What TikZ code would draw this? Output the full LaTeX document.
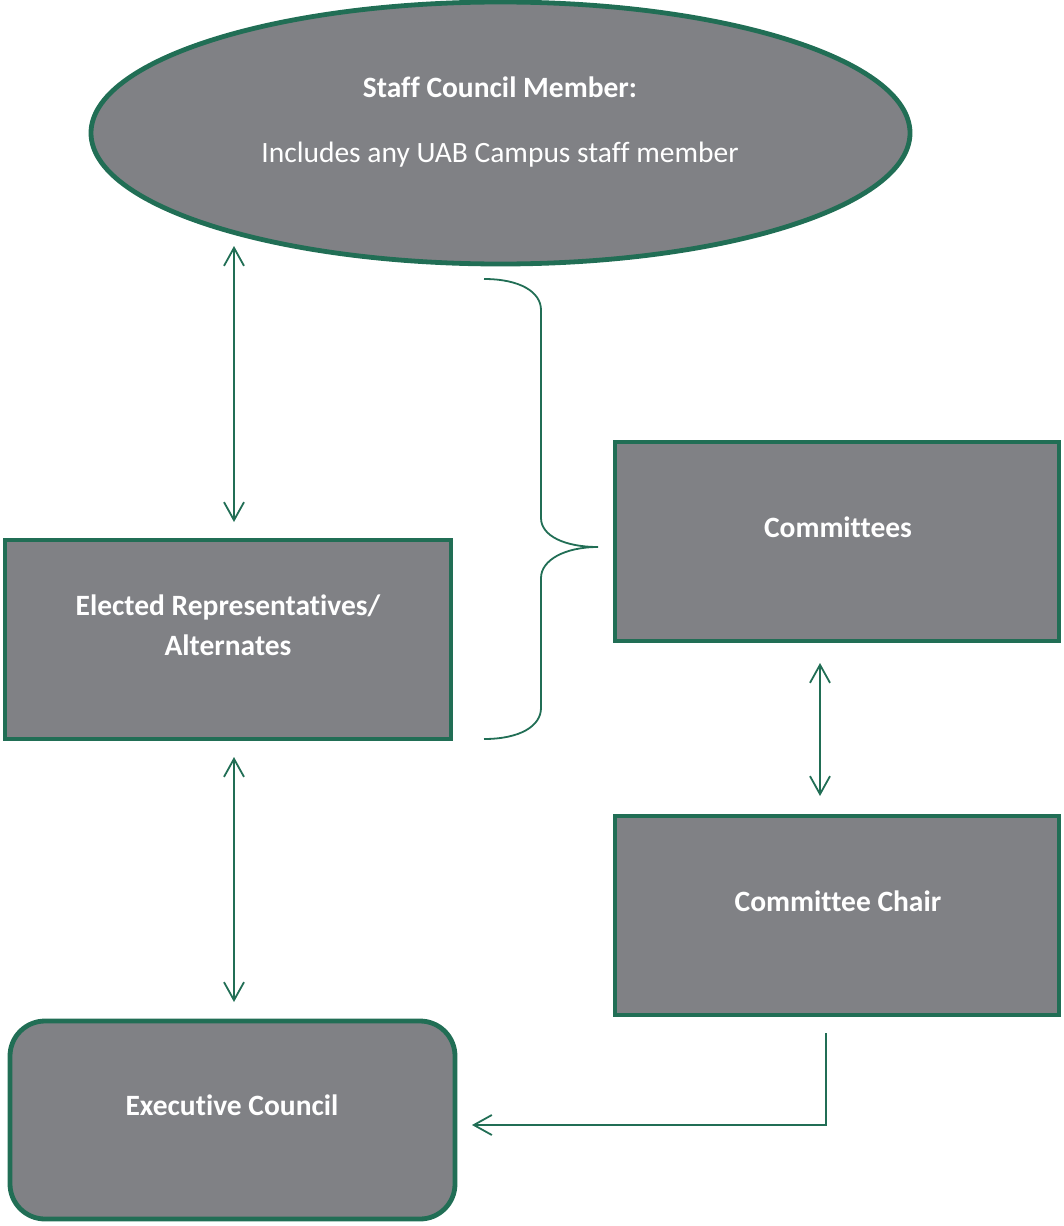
\documentclass[tikz,border=0pt]{standalone}
\usepackage{fontspec}
\setmainfont[Ligatures=NoCommon]{Carlito}
\usetikzlibrary{shapes.geometric,arrows.meta}
\definecolor{uabgreen}{RGB}{33,110,85}
\definecolor{boxgray}{RGB}{128,129,133}
\tikzset{
  shapebox/.style={draw=uabgreen, line width=4.8pt, fill=boxgray, rectangle, inner sep=0pt},
  ell/.style={draw=uabgreen, line width=4.8pt, fill=boxgray, ellipse, inner sep=0pt},
  lbl/.style={text=white, font=\fontsize{29.5}{40}\selectfont\bfseries, align=center, inner sep=0pt},
  lblr/.style={text=white, font=\fontsize{29.5}{40}\selectfont, align=center, inner sep=0pt},
  conn/.style={draw=uabgreen, line width=1.8pt},
  dbl/.style={conn, {Straight Barb[length=18pt,width=20pt,line width=1.8pt]}-{Straight Barb[length=18pt,width=20pt,line width=1.8pt]}},
  sgl/.style={conn, -{Straight Barb[length=18pt,width=20pt,line width=1.8pt]}}
}
\begin{document}
\begin{tikzpicture}[x=1pt,y=-1pt]
\useasboundingbox (0,0) rectangle (1063,1226);
% shapes
\node[ell, minimum width=819pt, minimum height=262pt] (scm) at (500.5,133) {};
\node[shapebox, minimum width=446pt, minimum height=199pt] (elected) at (228,639.5) {};
\node[shapebox, minimum width=444pt, minimum height=199pt] (committees) at (837,541.5) {};
\node[shapebox, minimum width=444pt, minimum height=199pt] (chair) at (837,915.5) {};
\node[shapebox, rounded corners=35pt, minimum width=445pt, minimum height=198pt] (exec) at (232.5,1120) {};
% labels
\node[lbl] (scmtitle) at (500,87) {Staff Council Member:};
\node[lblr] (scmsub) at (500,155) {Includes any UAB Campus staff member};
\node[lbl] (electedlbl) at (228,625) {Elected Representatives/\\Alternates};
\node[lbl] (commlbl) at (838,527) {Committees};
\node[lbl] (chairlbl) at (838,901) {Committee Chair};
\node[lbl] (execlbl) at (232,1105) {Executive Council};
% connector end points
\coordinate (a1s) at (234,246);
\coordinate (a1e) at (234,522);
\coordinate (a2s) at (234,757);
\coordinate (a2e) at (234,1002);
\coordinate (a3s) at (820,663);
\coordinate (a3e) at (820,796);
\coordinate (a4s) at (826,1033);
\coordinate (a4e) at (472,1125);
\draw[dbl] (a1s) -- (a1e);
\draw[dbl] (a2s) -- (a2e);
\draw[dbl] (a3s) -- (a3e);
\draw[sgl] (a4s) |- (a4e);
% brace
\draw[conn] (484,279) .. controls (520,279) and (541,292) .. (541,310) -- (541,518)
  .. controls (541,536) and (565,547) .. (598,547)
  .. controls (565,547) and (541,560) .. (541,578) -- (541,708)
  .. controls (541,726) and (520,739) .. (484,739);
\end{tikzpicture}
\end{document}
